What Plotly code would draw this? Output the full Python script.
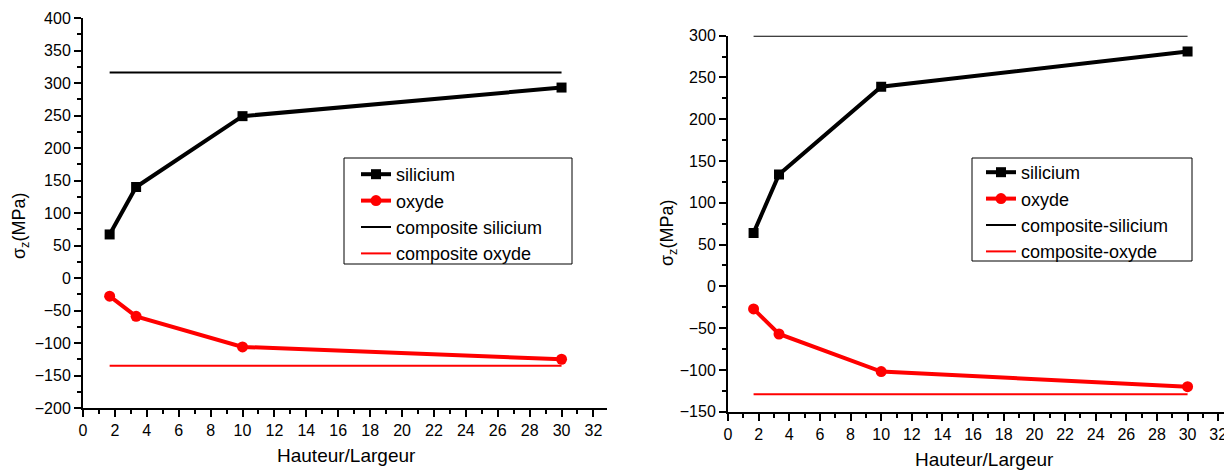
import plotly.graph_objects as go

# ---- data ----
ratio = [1.67, 3.33, 10, 30]

left_silicium = [67, 140, 249, 293]
left_oxyde = [-28, -59, -106, -125]
left_comp_silicium = 316
left_comp_oxyde = -135

right_silicium = [64, 134, 239, 281]
right_oxyde = [-27, -57, -102, -120]
right_comp_silicium = 300
right_comp_oxyde = -129

comp_x = [ratio[0], ratio[-1]]

left_names = ["silicium", "oxyde", "composite silicium", "composite oxyde"]
right_names = ["silicium", "oxyde", "composite-silicium", "composite-oxyde"]

FONT = "Liberation Sans, Arial, sans-serif"
# page body has an 8px default margin, so the figure is drawn offset by 8px
OFF = 8
W, H = 1232 - OFF, 470 - OFF

fig = go.Figure()


def add_panel(xa, ya, legend, sil, oxy, csil, coxy, names):
    fig.add_trace(go.Scatter(x=ratio, y=sil, mode="lines+markers", name=names[0],
                             line=dict(color="black", width=4),
                             marker=dict(symbol="square", size=10, color="black"),
                             xaxis=xa, yaxis=ya, legend=legend))
    fig.add_trace(go.Scatter(x=ratio, y=oxy, mode="lines+markers", name=names[1],
                             line=dict(color="#ff0000", width=4),
                             marker=dict(symbol="circle", size=11, color="#ff0000"),
                             xaxis=xa, yaxis=ya, legend=legend))
    fig.add_trace(go.Scatter(x=comp_x, y=[csil, csil], mode="lines", name=names[2],
                             line=dict(color="black", width=2),
                             xaxis=xa, yaxis=ya, legend=legend))
    fig.add_trace(go.Scatter(x=comp_x, y=[coxy, coxy], mode="lines", name=names[3],
                             line=dict(color="#ff0000", width=2),
                             xaxis=xa, yaxis=ya, legend=legend))


add_panel("x", "y", "legend", left_silicium, left_oxyde,
          left_comp_silicium, left_comp_oxyde, left_names)
add_panel("x2", "y2", "legend2", right_silicium, right_oxyde,
          right_comp_silicium, right_comp_oxyde, right_names)

axis_common = dict(showline=True, linecolor="black", linewidth=2, mirror=False,
                   ticks="outside", ticklen=7, tickwidth=1.5, tickcolor="black",
                   showgrid=False, zeroline=False, automargin=False,
                   tickfont=dict(family=FONT, size=16, color="black"))


def px_x(p):
    return (p - OFF) / W


def px_y(p):
    return 1 - (p - OFF) / H


leg_common = dict(xanchor="left", yanchor="top", borderwidth=0,
                  bgcolor="rgba(0,0,0,0)",
                  font=dict(family=FONT, size=18, color="black"),
                  tracegroupgap=0, itemsizing="trace")

fig.update_layout(
    width=W, height=H,
    margin=dict(l=0, r=0, t=0, b=0),
    paper_bgcolor="white", plot_bgcolor="white",
    font=dict(family=FONT, color="black"),
    xaxis=dict(domain=[px_x(83), px_x(607)], range=[0, 32.85], dtick=2, tick0=0,
               minor=dict(ticks="outside", ticklen=4, dtick=1, tickcolor="black", tickwidth=1.5),
               anchor="y", **axis_common),
    yaxis=dict(domain=[px_y(408), px_y(18)], range=[-200, 400], dtick=50, tick0=0,
               minor=dict(ticks="outside", ticklen=4, dtick=25, tickcolor="black", tickwidth=1.5),
               anchor="x", **axis_common),
    xaxis2=dict(domain=[px_x(728), 1.0], range=[0, 32.9], dtick=2, tick0=0,
                minor=dict(ticks="outside", ticklen=4, dtick=1, tickcolor="black", tickwidth=1.5),
                anchor="y2", **axis_common),
    yaxis2=dict(domain=[px_y(411.7), px_y(35.7)], range=[-150, 300], dtick=50, tick0=0,
                minor=dict(ticks="outside", ticklen=4, dtick=25, tickcolor="black", tickwidth=1.5),
                anchor="x2", **axis_common),
    legend=dict(x=px_x(356), y=px_y(156), **leg_common),
    legend2=dict(x=px_x(981), y=px_y(154), **leg_common),
    showlegend=True,
)

# legend frames
for (x0, x1, y0, y1) in [(344, 572, 158, 264), (972, 1192, 158, 261)]:
    fig.add_shape(type="rect", xref="paper", yref="paper",
                  x0=px_x(x0), x1=px_x(x1), y0=px_y(y1), y1=px_y(y0),
                  line=dict(color="black", width=1), fillcolor="rgba(0,0,0,0)",
                  layer="above")

annotations = [
    dict(text="σ<sub>z</sub>(MPa)", x=px_x(20), y=px_y(226), textangle=-90, size=18),
    dict(text="σ<sub>z</sub>(MPa)", x=px_x(668), y=px_y(233), textangle=-90, size=18),
    dict(text="Hauteur/Largeur", x=px_x(346), y=px_y(455), size=19),
    dict(text="Hauteur/Largeur", x=px_x(984), y=px_y(459), size=19),
]
for a in annotations:
    size = a.pop("size")
    fig.add_annotation(xref="paper", yref="paper", showarrow=False,
                       xanchor="center", yanchor="middle",
                       font=dict(family=FONT, size=size, color="black"), **a)

fig.write_html("out.html")
